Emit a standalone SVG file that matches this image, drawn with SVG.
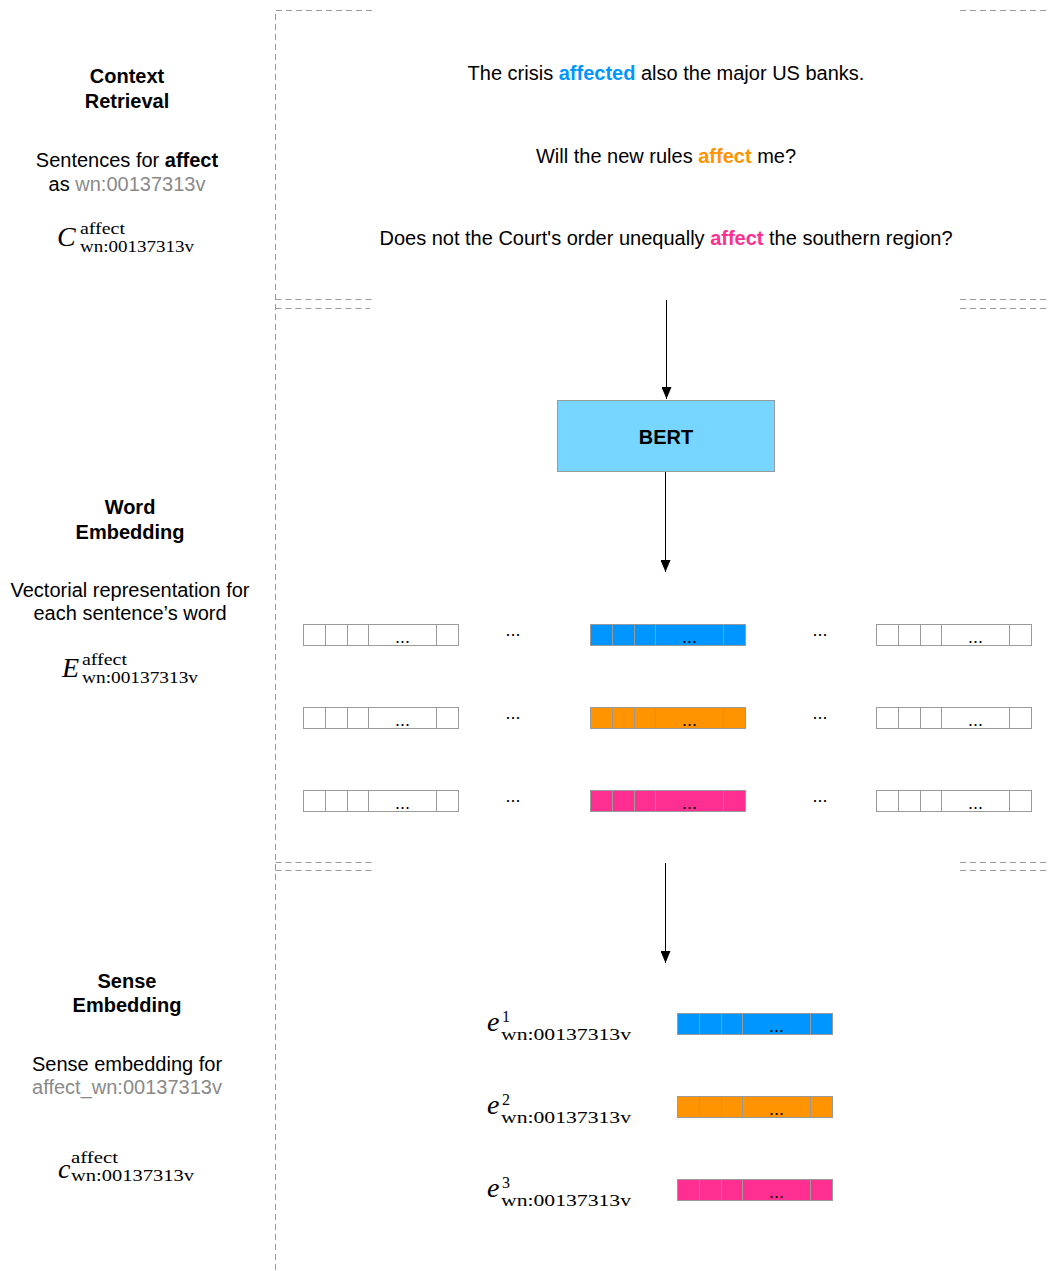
<svg xmlns="http://www.w3.org/2000/svg" width="1050" height="1271" viewBox="0 0 1050 1271">
  <style>
    .lbl { font-family: "Liberation Sans", Arial, sans-serif; font-size: 20px; fill: #000; text-anchor: middle; }
    .b { font-weight: bold; }
    .gray { fill: #8a8a8a; }
    .blue { fill: #0096FF; font-weight: bold; }
    .orange { fill: #FF9300; font-weight: bold; }
    .pink { fill: #FF2F92; font-weight: bold; }
    .math { font-family: "Liberation Serif", "DejaVu Serif", serif; fill: #000; }
    .mi { font-style: italic; font-size: 28px; }
    .ms { font-size: 16px; }
    .dash { stroke: #9a9a9a; stroke-width: 1; stroke-dasharray: 6 4; fill: none; }
    .cell { stroke: #9a9a9a; stroke-width: 1; }
    .dots { font-family: "Liberation Sans", Arial, sans-serif; font-size: 18px; fill: #000; text-anchor: middle; }
    .conn { stroke: #000; stroke-width: 1; fill: none; }
  </style>
  <defs>
    <marker id="arrow" markerWidth="12" markerHeight="10" refX="12" refY="5" orient="auto" markerUnits="userSpaceOnUse" viewBox="0 0 12 10">
      <path d="M0,0 L12,5 L0,10 Z" fill="#000"/>
    </marker>
    <!-- one vector: 5 cells, the fourth one wide and holding an ellipsis -->
    <g id="vec-empty">
      <rect class="cell" x="0" y="0" width="22" height="21" fill="#fff"/>
      <rect class="cell" x="22" y="0" width="22" height="21" fill="#fff"/>
      <rect class="cell" x="44" y="0" width="21" height="21" fill="#fff"/>
      <rect class="cell" x="65" y="0" width="68" height="21" fill="#fff"/>
      <rect class="cell" x="133" y="0" width="22" height="21" fill="#fff"/>
      <text class="dots" x="99" y="18">...</text>
    </g>
    <g id="vec-blue">
      <rect class="cell" x="0" y="0" width="22" height="21" fill="#0096FF"/>
      <rect class="cell" x="22" y="0" width="22" height="21" fill="#0096FF"/>
      <rect class="cell" x="44" y="0" width="21" height="21" fill="#0096FF"/>
      <rect class="cell" x="65" y="0" width="68" height="21" fill="#0096FF"/>
      <rect class="cell" x="133" y="0" width="22" height="21" fill="#0096FF"/>
      <text class="dots" x="99" y="18">...</text>
    </g>
    <g id="vec-orange">
      <rect class="cell" x="0" y="0" width="22" height="21" fill="#FF9300"/>
      <rect class="cell" x="22" y="0" width="22" height="21" fill="#FF9300"/>
      <rect class="cell" x="44" y="0" width="21" height="21" fill="#FF9300"/>
      <rect class="cell" x="65" y="0" width="68" height="21" fill="#FF9300"/>
      <rect class="cell" x="133" y="0" width="22" height="21" fill="#FF9300"/>
      <text class="dots" x="99" y="18">...</text>
    </g>
    <g id="vec-pink">
      <rect class="cell" x="0" y="0" width="22" height="21" fill="#FF2F92"/>
      <rect class="cell" x="22" y="0" width="22" height="21" fill="#FF2F92"/>
      <rect class="cell" x="44" y="0" width="21" height="21" fill="#FF2F92"/>
      <rect class="cell" x="65" y="0" width="68" height="21" fill="#FF2F92"/>
      <rect class="cell" x="133" y="0" width="22" height="21" fill="#FF2F92"/>
      <text class="dots" x="99" y="18">...</text>
    </g>
  </defs>

  <rect width="1050" height="1271" fill="#fff"/>

  <!-- dashed panel frames -->
  <g id="frames">
    <path class="dash" d="M275.5,1270 L275.5,10.5 L373,10.5 M960,10.5 L1050,10.5"/>
    <path class="dash" d="M275.5,299.5 L373,299.5 M960,299.5 L1050,299.5"/>
    <path class="dash" d="M275.5,308.5 L370,308.5 M960,308.5 L1050,308.5"/>
    <path class="dash" d="M275.5,862.5 L373,862.5 M960,862.5 L1050,862.5"/>
    <path class="dash" d="M275.5,870.5 L373,870.5 M960,870.5 L1050,870.5"/>
  </g>

  <!-- left column: stage descriptions -->
  <g id="context-retrieval">
    <text class="lbl b" x="127" y="83">Context</text>
    <text class="lbl b" x="127" y="108">Retrieval</text>
    <text class="lbl" x="127" y="167">Sentences for <tspan class="b">affect</tspan></text>
    <text class="lbl" x="127" y="191">as <tspan class="gray">wn:00137313v</tspan></text>
    <text class="math mi" x="57" y="246">C</text>
    <text class="math ms" x="80" y="234" textLength="45" lengthAdjust="spacingAndGlyphs">affect</text>
    <text class="math ms" x="80" y="252" textLength="114" lengthAdjust="spacingAndGlyphs">wn:00137313v</text>
  </g>

  <g id="word-embedding">
    <text class="lbl b" x="130" y="514">Word</text>
    <text class="lbl b" x="130" y="539">Embedding</text>
    <text class="lbl" x="130" y="597">Vectorial representation for</text>
    <text class="lbl" x="130" y="620">each sentence’s word</text>
    <text class="math mi" x="62" y="677">E</text>
    <text class="math ms" x="82" y="665" textLength="45" lengthAdjust="spacingAndGlyphs">affect</text>
    <text class="math ms" x="82" y="683" textLength="116" lengthAdjust="spacingAndGlyphs">wn:00137313v</text>
  </g>

  <g id="sense-embedding">
    <text class="lbl b" x="127" y="988">Sense</text>
    <text class="lbl b" x="127" y="1012">Embedding</text>
    <text class="lbl" x="127" y="1071">Sense embedding for</text>
    <text class="lbl gray" x="127" y="1094">affect_wn:00137313v</text>
    <text class="math mi" x="58" y="1178">c</text>
    <text class="math ms" x="71" y="1163" textLength="47" lengthAdjust="spacingAndGlyphs">affect</text>
    <text class="math ms" x="71" y="1181" textLength="123" lengthAdjust="spacingAndGlyphs">wn:00137313v</text>
  </g>

  <!-- retrieved sentences -->
  <g id="sentences">
    <text class="lbl" x="666" y="80">The crisis <tspan class="blue">affected</tspan> also the major US banks.</text>
    <text class="lbl" x="666" y="163">Will the new rules <tspan class="orange">affect</tspan> me?</text>
    <text class="lbl" x="666" y="245">Does not the Court's order unequally <tspan class="pink">affect</tspan> the southern region?</text>
  </g>

  <g id="bert">
    <rect x="557.5" y="400.5" width="217" height="71" fill="#76D6FF" stroke="#999" stroke-width="1"/>
    <text class="lbl b" x="666" y="444">BERT</text>
  </g>

  <!-- word vectors: three sentences -->
  <g id="word-vectors">
    <use href="#vec-empty" x="303.5" y="624.5"/>
    <text class="dots" x="513" y="636">...</text>
    <use href="#vec-blue" x="590.5" y="624.5"/>
    <text class="dots" x="820" y="636">...</text>
    <use href="#vec-empty" x="876.5" y="624.5"/>

    <use href="#vec-empty" x="303.5" y="707.5"/>
    <text class="dots" x="513" y="719">...</text>
    <use href="#vec-orange" x="590.5" y="707.5"/>
    <text class="dots" x="820" y="719">...</text>
    <use href="#vec-empty" x="876.5" y="707.5"/>

    <use href="#vec-empty" x="303.5" y="790.5"/>
    <text class="dots" x="513" y="802">...</text>
    <use href="#vec-pink" x="590.5" y="790.5"/>
    <text class="dots" x="820" y="802">...</text>
    <use href="#vec-empty" x="876.5" y="790.5"/>
  </g>

  <!-- sense vectors -->
  <g id="sense-vectors">
    <text class="math mi" x="487" y="1031">e</text>
    <text class="math ms" x="502" y="1022">1</text>
    <text class="math ms" x="501" y="1040" textLength="130" lengthAdjust="spacingAndGlyphs">wn:00137313v</text>
    <use href="#vec-blue" x="677.5" y="1013.5"/>

    <text class="math mi" x="487" y="1114">e</text>
    <text class="math ms" x="502" y="1105">2</text>
    <text class="math ms" x="501" y="1123" textLength="130" lengthAdjust="spacingAndGlyphs">wn:00137313v</text>
    <use href="#vec-orange" x="677.5" y="1096.5"/>

    <text class="math mi" x="487" y="1197">e</text>
    <text class="math ms" x="502" y="1188">3</text>
    <text class="math ms" x="501" y="1206" textLength="130" lengthAdjust="spacingAndGlyphs">wn:00137313v</text>
    <use href="#vec-pink" x="677.5" y="1179.5"/>
  </g>

  <!-- connectors -->
  <g id="connectors">
    <line class="conn" x1="666.5" y1="300" x2="666.5" y2="399" marker-end="url(#arrow)"/>
    <line class="conn" x1="665.5" y1="472" x2="665.5" y2="572" marker-end="url(#arrow)"/>
    <line class="conn" x1="665.5" y1="863" x2="665.5" y2="963" marker-end="url(#arrow)"/>
  </g>
</svg>
